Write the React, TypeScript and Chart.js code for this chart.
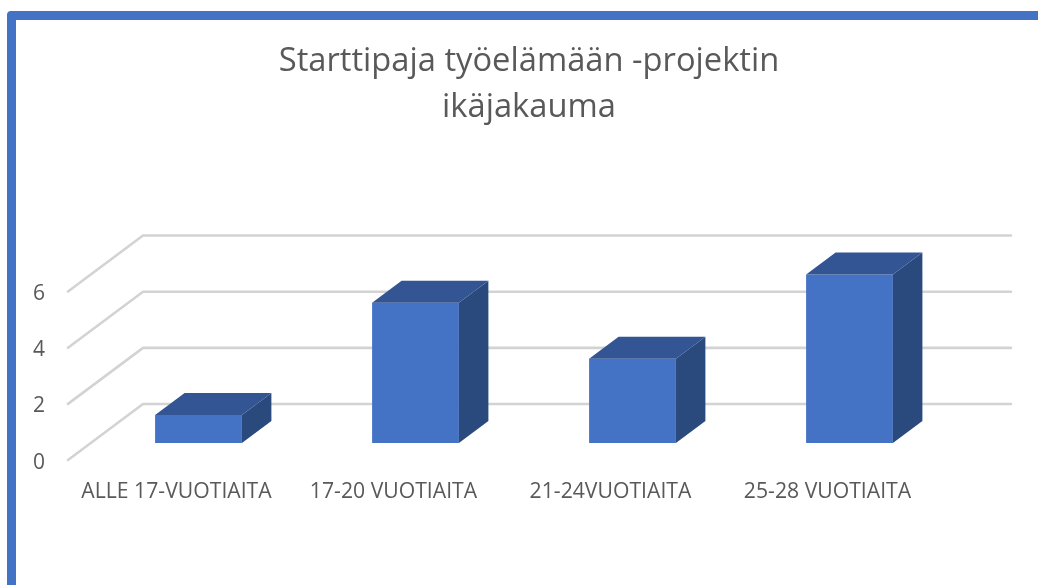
import React, { useEffect, useRef } from "react";
import Chart from "chart.js/auto";

const titleLines = ["Starttipaja työelämään -projektin", "ikäjakauma"];
const categories = ["ALLE 17-VUOTIAITA", "17-20 VUOTIAITA", "21-24VUOTIAITA", "25-28 VUOTIAITA"];
const participants = [1, 5, 3, 6];
const axisMax = 6;
const axisStep = 2;

const FONT = '"Open Sans", sans-serif';
const TEXT = "#595959";
const FRONT = "#4472c4";
const TOP = "#335593";
const SIDE = "#2a4a7e";
const GRID = "#d3d3d3";

const WALL_DX = 75;
const WALL_DY = 56;
const BAR_SHIFT_X = 22;
const BAR_SHIFT_Y = 17;
const BAR_DX = 29.5;
const BAR_DY = 22;
const Y_LABEL_NUDGE = 2.5;

const box3d = {
  id: "box3d",
  beforeDraw(chart: any) {
    for (const item of chart.scales.y.getLabelItems()) {
      item.options.translation = [item.options.translation[0], item.options.translation[1] + Y_LABEL_NUDGE];
    }
  },
  beforeDatasetsDraw(chart: any) {
    const { ctx, chartArea, scales } = chart;
    ctx.save();
    ctx.strokeStyle = GRID;
    ctx.lineWidth = 2.6;
    ctx.lineJoin = "round";
    ctx.lineCap = "round";
    for (const t of scales.y.ticks) {
      const y = scales.y.getPixelForValue(t.value);
      ctx.beginPath();
      ctx.moveTo(chartArea.left, y);
      ctx.lineTo(chartArea.left + WALL_DX, y - WALL_DY);
      ctx.lineTo(chartArea.right + WALL_DX, y - WALL_DY);
      ctx.stroke();
    }
    ctx.restore();
    ctx.save();
    ctx.translate(BAR_SHIFT_X, -BAR_SHIFT_Y);
  },
  afterDatasetsDraw(chart: any) {
    const { ctx } = chart;
    const meta = chart.getDatasetMeta(0);
    for (const bar of meta.data) {
      const r = bar.x + bar.width / 2;
      const l = bar.x - bar.width / 2;
      const t = bar.y;
      const b = bar.base;
      ctx.fillStyle = SIDE;
      ctx.beginPath();
      ctx.moveTo(r, t);
      ctx.lineTo(r + BAR_DX, t - BAR_DY);
      ctx.lineTo(r + BAR_DX, b - BAR_DY);
      ctx.lineTo(r, b);
      ctx.closePath();
      ctx.fill();
      ctx.fillStyle = TOP;
      ctx.beginPath();
      ctx.moveTo(l, t);
      ctx.lineTo(l + BAR_DX, t - BAR_DY);
      ctx.lineTo(r + BAR_DX, t - BAR_DY);
      ctx.lineTo(r, t);
      ctx.closePath();
      ctx.fill();
    }
    ctx.restore();
  },
};

export default function App() {
  const ref = useRef<HTMLCanvasElement>(null);
  useEffect(() => {
    const chart = new Chart(ref.current!, {
      type: "bar",
      data: {
        labels: categories,
        datasets: [
          {
            label: "Osallistujat",
            data: participants,
            backgroundColor: FRONT,
            borderWidth: 0,
            barPercentage: 0.4,
            categoryPercentage: 1,
            clip: false,
          } as any,
        ],
      },
      plugins: [box3d],
      options: {
        responsive: false,
        animation: false,
        layout: { padding: { left: 20, right: 0, top: 0, bottom: 69.5 } },
        plugins: {
          legend: { display: false },
          tooltip: { enabled: false },
          title: {
            display: true,
            text: titleLines,
            color: TEXT,
            font: { family: FONT, size: 32.7, weight: "normal", lineHeight: 1.4 },
            padding: { top: 39, bottom: 161 },
          },
        },
        scales: {
          x: {
            grid: { display: false },
            border: { display: false },
            ticks: {
              color: TEXT,
              font: { family: FONT, size: 21.2 },
              maxRotation: 0,
              autoSkip: false,
              padding: 11,
            },
          },
          y: {
            min: 0,
            max: axisMax,
            grid: { display: false },
            border: { display: false },
            afterFit(s: any) {
              s.width = 48;
            },
            ticks: {
              stepSize: axisStep,
              color: TEXT,
              font: { family: FONT, size: 21 },
              padding: 15,
            },
          },
          rightGutter: {
            position: "right",
            display: true,
            grid: { display: false },
            border: { display: false },
            ticks: { display: false },
            afterFit(s: any) {
              s.width = 102;
            },
          },
        },
      } as any,
    });
    return () => chart.destroy();
  }, []);
  return (
    <div style={{ position: "fixed", left: 0, top: 0, width: 1038, height: 585, overflow: "hidden", background: "#fff" }}>
      <div
        style={{
          position: "absolute",
          left: 7,
          top: 11,
          width: 1200,
          height: 800,
          border: "9.5px solid #4472c4",
          borderRadius: 4,
          boxSizing: "border-box",
        }}
      />
      <canvas ref={ref} width={1038} height={585} style={{ position: "absolute", left: 0, top: 0, display: "block" }} />
    </div>
  );
}
